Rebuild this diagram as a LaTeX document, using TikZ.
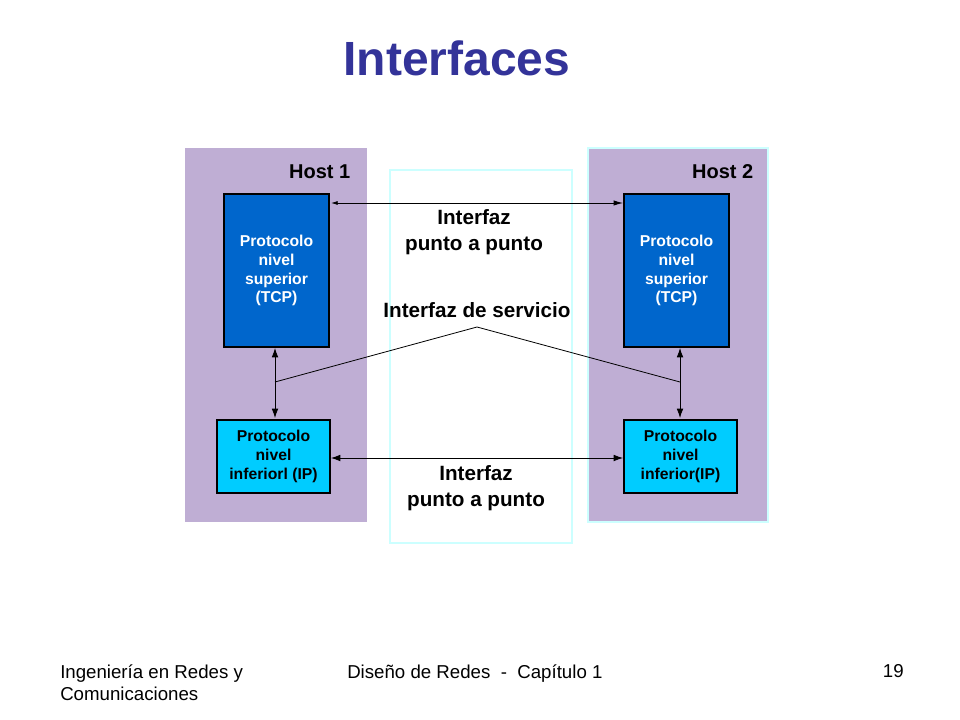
\documentclass[tikz,border=0pt]{standalone}
\usepackage{fontspec}
\setmainfont{Liberation Sans}
\usetikzlibrary{arrows.meta}
\definecolor{panel}{HTML}{BFAED4}
\definecolor{titleblue}{HTML}{333399}
\definecolor{upblue}{HTML}{0066CC}
\definecolor{lowcyan}{HTML}{00CCFF}
\definecolor{edgecyan}{HTML}{CCFFFF}
\tikzset{
  hostpanel/.style={fill=panel, draw=none},
  upbox/.style={draw=black, line width=1.5pt, fill=upblue, text=white, font=\bfseries\fontsize{11.8}{14.2}\selectfont, align=center, inner sep=0pt},
  lowbox/.style={draw=black, line width=1.5pt, fill=lowcyan, text=black, font=\bfseries\fontsize{11.8}{14.2}\selectfont, align=center, inner sep=0pt},
  lbl/.style={font=\bfseries\fontsize{15.5}{19}\selectfont, align=center, text=black},
  conn/.style={line width=0.6pt, {Latex[length=7pt,width=5pt]}-{Latex[length=7pt,width=5pt]}},
  thin/.style={line width=0.6pt},
  foot/.style={font=\fontsize{14}{16.5}\selectfont, align=left, anchor=north west, inner sep=0pt}
}
\begin{document}
\begin{tikzpicture}[x=0.75pt,y=-0.75pt]
\useasboundingbox (0,0) rectangle (960,720);
% title
\node[font=\bfseries\fontsize{36}{40}\selectfont, text=titleblue] (title) at (457,58) {Interfaces};
% panels
\path[hostpanel] (185,148) rectangle (367,522);
\path[hostpanel, draw=edgecyan, line width=1pt] (588,148) rectangle (768,522);
\path[draw=edgecyan, line width=1.5pt, fill=white] (390,170) rectangle (572,543);
\node[font=\bfseries\fontsize{15}{18}\selectfont, anchor=east] (h1) at (355,172) {Host 1};
\node[font=\bfseries\fontsize{15}{18}\selectfont, anchor=east] (h2) at (758,172) {Host 2};
% boxes
\node[upbox, minimum width=105*0.75pt, minimum height=153*0.75pt] (u1) at (276.5,270.5) {Protocolo\\nivel\\superior\\(TCP)};
\node[upbox, minimum width=105*0.75pt, minimum height=153*0.75pt] (u2) at (676.5,270.5) {Protocolo\\nivel\\superior\\(TCP)};
\node[lowbox, minimum width=113*0.75pt, minimum height=73*0.75pt] (l1) at (273.5,456) {Protocolo\\nivel\\inferiorl (IP)};
\node[lowbox, minimum width=113*0.75pt, minimum height=73*0.75pt] (l2) at (680.5,456) {Protocolo\\nivel\\inferior(IP)};
% vertical arrows
\coordinate (v1a) at (275,348);
\coordinate (v1b) at (275,418);
\coordinate (v2a) at (680,348);
\coordinate (v2b) at (680,418);
\draw[conn] (v1a) -- (v1b);
\draw[conn] (v2a) -- (v2b);
% top horizontal
\coordinate (t1) at (331,203);
\coordinate (t2) at (623,203);
\draw[line width=0.6pt, {Latex[length=5pt,width=3pt]}-{Latex[length=7pt,width=4pt]}] (t1) -- (t2);
\node[lbl] (pp1) at (474,232) {Interfaz\\punto a punto};
% service interface
\node[lbl] (si) at (477,310) {Interfaz de servicio};
\coordinate (apex) at (477,327);
\coordinate (s1) at (275,382);
\coordinate (s2) at (680,382);
\draw[thin] (s1) -- (apex) -- (s2);
% bottom horizontal
\coordinate (b1) at (331,458);
\coordinate (b2) at (623,458);
\draw[conn] (b1) -- (b2);
\node[lbl] (pp2) at (476,488) {Interfaz\\punto a punto};
% footer
\node[foot] (f1) at (60,664) {Ingeniería en Redes y\\Comunicaciones};
\node[foot] (f2) at (347,664) {Diseño de Redes \ - \ Capítulo 1};
\node[foot, anchor=north east] (f3) at (904,664) {19};
\end{tikzpicture}
\end{document}
